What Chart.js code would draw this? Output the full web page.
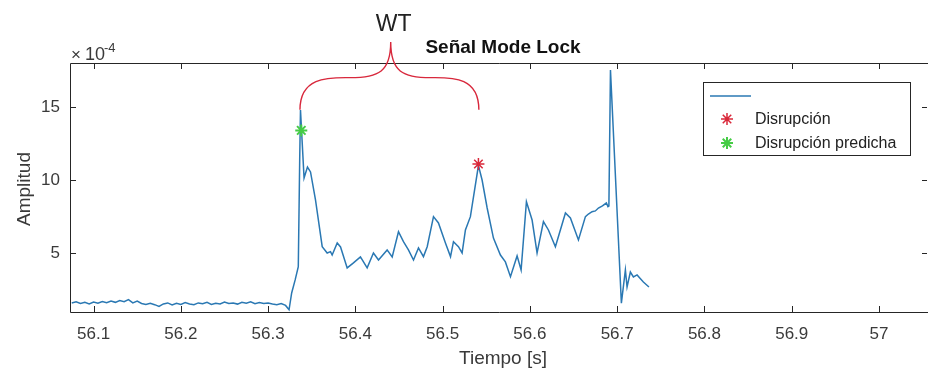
<!DOCTYPE html>
<html>
<head>
<meta charset="utf-8">
<script src="https://cdn.jsdelivr.net/npm/chart.js@4"></script>
<style>
  html, body { margin: 0; padding: 0; background: #fff; overflow: hidden; }
  #wrap { width: 928px; height: 374px; }
</style>
</head>
<body>
<div id="wrap"><canvas id="ml-chart" width="928" height="374"></canvas></div>
<script>
// Señal Mode Lock (amplitud x 1e-4) contra tiempo
const tiempo = [
  56.075, 56.080, 56.085, 56.090, 56.095, 56.100, 56.105, 56.110, 56.115, 56.120,
  56.125, 56.130, 56.135, 56.140, 56.145, 56.150, 56.155, 56.160, 56.165, 56.170,
  56.175, 56.180, 56.185, 56.190, 56.195, 56.200, 56.205, 56.210, 56.215, 56.220,
  56.225, 56.230, 56.235, 56.240, 56.245, 56.250, 56.255, 56.260, 56.265, 56.270,
  56.275, 56.280, 56.285, 56.290, 56.295, 56.300, 56.305, 56.310, 56.315, 56.320,
  56.324, 56.327, 56.331, 56.3346, 56.3362, 56.3371, 56.3412, 56.3451, 56.3486, 56.3543,
  56.362, 56.3677, 56.3715, 56.3734, 56.3792, 56.383, 56.3906, 56.3978, 56.4058, 56.4135,
  56.4207, 56.4265, 56.4364, 56.4422, 56.4494, 56.4551, 56.4608, 56.4666, 56.4723, 56.478,
  56.4823, 56.4895, 56.4952, 56.5032, 56.509, 56.5124, 56.5181, 56.5223, 56.5261, 56.5318,
  56.541, 56.5452, 56.551, 56.5582, 56.5662, 56.5719, 56.5777, 56.5853, 56.5899, 56.596,
  56.6025, 56.6082, 56.6155, 56.6212, 56.6292, 56.6407, 56.6464, 56.6556, 56.6636, 56.667,
  56.6712, 56.675, 56.6785, 56.6831, 56.6876, 56.6894, 56.6905, 56.6923, 56.7048, 56.7094,
  56.7113, 56.7151, 56.7186, 56.7228, 56.73, 56.7364
];
const amplitud = [
  1.62, 1.70, 1.58, 1.66, 1.55, 1.68, 1.60, 1.72, 1.64, 1.75,
  1.66, 1.78, 1.70, 1.85, 1.62, 1.74, 1.58, 1.52, 1.60, 1.50,
  1.38, 1.55, 1.62, 1.48, 1.60, 1.52, 1.64, 1.55, 1.50, 1.62,
  1.56, 1.66, 1.52, 1.60, 1.55, 1.68, 1.58, 1.62, 1.54, 1.66,
  1.60, 1.70, 1.56, 1.64, 1.58, 1.62, 1.55, 1.50, 1.58, 1.45,
  1.15, 2.30, 3.19, 4.10, 11.38, 14.79, 10.15, 10.90, 10.56, 8.65,
  5.46, 5.03, 5.12, 4.89, 5.71, 5.44, 4.01, 4.35, 4.76, 4.01,
  5.03, 4.55, 5.24, 4.76, 6.48, 5.80, 5.24, 4.55, 5.37, 4.78,
  5.46, 7.51, 7.08, 5.71, 4.78, 5.80, 5.46, 5.03, 6.60, 7.51,
  11.0, 10.01, 8.10, 6.05, 4.89, 4.42, 3.41, 4.83, 3.87, 8.53,
  7.28, 5.03, 7.17, 6.60, 5.46, 7.76, 7.42, 5.92, 7.51, 7.69,
  7.85, 7.90, 8.10, 8.24, 8.44, 8.20, 8.24, 17.52, 1.60, 3.87,
  2.71, 3.73, 3.39, 3.53, 3.05, 2.71
];
const disrupcion = [56.541, 11.1];
const disrupcionPredicha = [56.338, 13.4];
const xTicks = [56.1, 56.2, 56.3, 56.4, 56.5, 56.6, 56.7, 56.8, 56.9, 57];
const yTicks = [5, 10, 15];
const legendLabels = ["", "Disrupción", "Disrupción predicha"];

const FONT = "'Liberation Sans', Arial, Helvetica, sans-serif";
const AXIS = "#262626";
const TXT = "#3a3a3a";

const signal = tiempo.map((t, i) => ({ x: t, y: amplitud[i] }));

// ejes estilo MATLAB, marcas hacia dentro, leyenda y anotación WT
const matlabAxes = {
  id: "matlabAxes",
  afterDraw(chart) {
    const { ctx, chartArea: a, scales: { x, y } } = chart;
    ctx.save();
    ctx.strokeStyle = AXIS;
    ctx.lineWidth = 1;
    ctx.beginPath();
    ctx.moveTo(a.left + 0.5, a.bottom + 0.5);
    ctx.lineTo(a.left + 0.5, a.top + 0.5);
    ctx.lineTo(a.right + 2, a.top + 0.5);
    ctx.moveTo(a.left + 0.5, a.bottom + 0.5);
    ctx.lineTo(a.right + 2, a.bottom + 0.5);
    const tl = 6;
    xTicks.forEach(v => {
      const px = Math.round(x.getPixelForValue(v)) + 0.5;
      ctx.moveTo(px, a.bottom); ctx.lineTo(px, a.bottom - tl);
      ctx.moveTo(px, a.top); ctx.lineTo(px, a.top + tl);
    });
    yTicks.forEach(v => {
      const py = Math.round(y.getPixelForValue(v)) + 0.5;
      ctx.moveTo(a.left, py); ctx.lineTo(a.left + tl, py);
      ctx.moveTo(a.right, py); ctx.lineTo(a.right - tl + 1, py);
    });
    ctx.stroke();

    // multiplicador del eje y
    ctx.fillStyle = TXT;
    ctx.textBaseline = "alphabetic";
    ctx.textAlign = "left";
    ctx.font = `17px ${FONT}`;
    ctx.fillText("\u00d7", a.left + 1, a.top - 3);
    ctx.font = `18px ${FONT}`;
    ctx.fillText("10", a.left + 15, a.top - 3);
    ctx.font = `13px ${FONT}`;
    ctx.fillText("-4", a.left + 34, a.top - 11);

    // títulos
    ctx.fillStyle = "#111";
    ctx.textAlign = "center";
    ctx.font = `bold 19px ${FONT}`;
    ctx.fillText("Señal Mode Lock", 503, 53);
    ctx.fillStyle = TXT;
    ctx.font = `19px ${FONT}`;
    ctx.fillText("Tiempo [s]", 503, 364);
    ctx.save();
    ctx.translate(30, 189);
    ctx.rotate(-Math.PI / 2);
    ctx.fillText("Amplitud", 0, 0);
    ctx.restore();

    // llave WT
    const xl = x.getPixelForValue(56.3365), xr = x.getPixelForValue(56.5415);
    const xc = x.getPixelForValue(56.4405);
    const yEnd = y.getPixelForValue(14.8), yMid = y.getPixelForValue(17.0);
    const yTop = y.getPixelForValue(19.43);
    ctx.strokeStyle = "#d8283c";
    ctx.lineWidth = 1.4;
    ctx.beginPath();
    ctx.moveTo(xl, yEnd);
    ctx.bezierCurveTo(xl, yMid - 2, xl + 30, yMid, xl + 50, yMid);
    ctx.bezierCurveTo(xc - 12, yMid, xc, yMid - 6, xc, yTop);
    ctx.bezierCurveTo(xc, yMid - 6, xc + 12, yMid, xr - 48, yMid);
    ctx.bezierCurveTo(xr - 28, yMid, xr, yMid - 2, xr, yEnd);
    ctx.stroke();
    ctx.fillStyle = "#222";
    ctx.font = `23px ${FONT}`;
    ctx.fillText("WT", xc + 3, yTop - 11);

    // leyenda
    const lx = 703, ly = 82, lw = 207, lh = 73;
    ctx.fillStyle = "#fff";
    ctx.fillRect(lx, ly, lw, lh);
    ctx.strokeStyle = AXIS;
    ctx.lineWidth = 1;
    ctx.strokeRect(lx + 0.5, ly + 0.5, lw, lh);
    const ds = chart.data.datasets;
    ctx.strokeStyle = ds[0].borderColor;
    ctx.lineWidth = 1.5;
    ctx.beginPath();
    ctx.moveTo(710, 96); ctx.lineTo(751, 96);
    ctx.stroke();
    [1, 2].forEach((k, i) => {
      const cy = 119 + i * 24;
      ctx.strokeStyle = ds[k].borderColor;
      ctx.lineWidth = ds[k].borderWidth;
      Chart.helpers.drawPoint(ctx, {
        pointStyle: "star", radius: 6, rotation: 0, borderWidth: ds[k].borderWidth
      }, 727, cy);
      ctx.fillStyle = "#222";
      ctx.textAlign = "left";
      ctx.textBaseline = "middle";
      ctx.font = `16px ${FONT}`;
      ctx.fillText(legendLabels[k], 755, cy + 1);
    });
    ctx.restore();
  }
};

new Chart(document.getElementById("ml-chart"), {
  type: "line",
  data: {
    datasets: [
      {
        label: legendLabels[0],
        data: signal,
        borderColor: "#2a78b3",
        borderWidth: 1.5,
        pointRadius: 0,
        tension: 0,
        order: 2,
      },
      {
        label: legendLabels[1],
        data: [{ x: disrupcion[0], y: disrupcion[1] }],
        showLine: false,
        pointStyle: "star",
        pointRadius: 6,
        borderColor: "#d9283a",
        borderWidth: 1.5,
        order: 1,
      },
      {
        label: legendLabels[2],
        data: [{ x: disrupcionPredicha[0], y: disrupcionPredicha[1] }],
        showLine: false,
        pointStyle: "star",
        pointRadius: 6,
        borderColor: "#45cc45",
        borderWidth: 2,
        order: 0,
      },
    ],
  },
  options: {
    responsive: false,
    animation: false,
    events: [],
    layout: { autoPadding: false, padding: { top: 63, right: 1, left: 0, bottom: 0 } },
    plugins: { legend: { display: false }, tooltip: { enabled: false } },
    scales: {
      x: {
        type: "linear",
        min: 56.073,
        max: 57.055,
        afterFit: s => { s.height = 62; s.paddingLeft = 0; s.paddingRight = 0; },
        afterBuildTicks: s => { s.ticks = xTicks.map(v => ({ value: v })); },
        grid: { display: false, drawTicks: false },
        border: { display: false },
        ticks: {
          padding: 12,
          color: TXT,
          font: { family: FONT, size: 17 },
          maxRotation: 0,
          autoSkip: false,
          callback: v => String(Number(v.toFixed(1))),
        },
      },
      y: {
        min: 1,
        max: 18,
        afterFit: s => { s.width = 70; s.paddingTop = 0; s.paddingBottom = 0; },
        afterBuildTicks: s => { s.ticks = yTicks.map(v => ({ value: v })); },
        grid: { display: false, drawTicks: false },
        border: { display: false },
        ticks: {
          padding: 10,
          color: TXT,
          font: { family: FONT, size: 17 },
        },
      },
    },
  },
  plugins: [matlabAxes],
});
</script>
</body>
</html>
